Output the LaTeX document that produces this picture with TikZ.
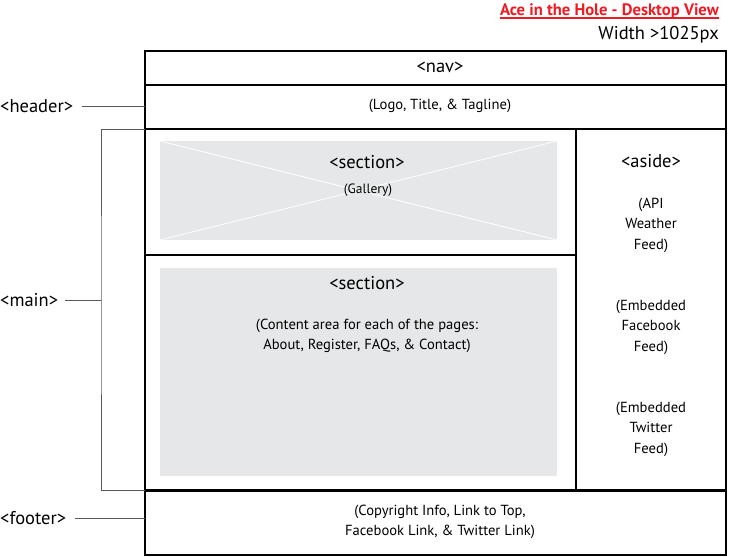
\documentclass[tikz,border=0pt]{standalone}
\usepackage{fontspec}
\setmainfont{PT Sans}
\usetikzlibrary{positioning}
\definecolor{paneGray}{HTML}{E6E7E8}
\definecolor{titleRed}{HTML}{ED1C24}
\definecolor{leadGray}{HTML}{595959}

\begin{document}
\begin{tikzpicture}[%
    x=1pt, y=-1pt,
    region/.style 2 args={draw, line width=2.6pt, anchor=north west,
      inner sep=0pt, outer sep=0pt, minimum width=#1pt, minimum height=#2pt},
    pane/.style 2 args={fill=paneGray, anchor=north west,
      inner sep=0pt, outer sep=0pt, minimum width=#1pt, minimum height=#2pt},
    tag/.style={font=\fontsize{18.5}{20}\selectfont, inner sep=0pt},
    note/.style={font=\fontsize{14.6}{20.5}\selectfont, align=center, inner sep=0pt},
    leader/.style={draw=leadGray, line width=1pt},
  ]
    \useasboundingbox (0,0) rectangle (742,557);

    % boxes of the layout
    \node[region={581}{34}]   (nav)     at (145,51)    {};
    \node[region={581}{44}]   (header)  at (145,85)    {};
    \node[region={431}{126}]  (gallery) at (145,129)   {};
    \node[region={431}{235.7}](content) at (145,255)   {};
    \node[region={150}{361.7}](aside)   at (576,129)   {};
    \node[region={581}{64.3}] (footer)  at (145,490.7) {};

    % grey placeholders
    \node[pane={397}{99}]  (galpane) at (160,141) {};
    \node[pane={397}{208}] (conpane) at (160,268) {};
    \draw[white, line width=0.8pt] (galpane.north west) -- (galpane.south east)
                                   (galpane.south west) -- (galpane.north east);

    % heading
    \node[anchor=east, inner sep=0pt, text=titleRed,
          font=\fontsize{16.6}{18}\selectfont\bfseries] (title) at (719,11)
          {Ace in the Hole - Desktop View};
    \draw[titleRed, line width=1.6pt] ([yshift=-2.5pt]title.base west) -- ([yshift=-2.5pt]title.base east);
    \node[tag, anchor=east] (width) at (719,35) {Width >1025px};

    % texts in the boxes
    \node[tag] (navtxt) at (440,67) {<nav>};
    \node[note] (hdrtxt) at (440,106) {(Logo, Title, \& Tagline)};
    \node[tag] (galtag) at (367,162) {<section>};
    \node[note, font=\fontsize{13.5}{15}\selectfont] (galtxt) at (368,190) {(Gallery)};
    \node[tag] (contag) at (367,283) {<section>};
    \node[note] (context) at (367,336) {(Content area for each of the pages:\\About, Register, FAQs, \& Contact)};
    \node[tag] (asitag) at (651,161) {<aside>};
    \node[note] (weather) at (651,225) {(API\\Weather\\Feed)};
    \node[note] (fbfeed)  at (651,327) {(Embedded\\Facebook\\Feed)};
    \node[note] (twfeed)  at (651,429) {(Embedded\\Twitter\\Feed)};
    \node[note] (ftrtxt)  at (440,522) {(Copyright Info, Link to Top,\\Facebook Link, \& Twitter Link)};

    % labels on the left
    \node[tag, anchor=west] (hdrlbl)  at (0,106) {<header>};
    \node[tag, anchor=west] (mainlbl) at (0,300) {<main>};
    \node[tag, anchor=west] (ftrlbl)  at (0,518) {<footer>};
    \coordinate (brace) at (101,300);

    \path[leader] ([xshift=9pt]hdrlbl.east) -- (hdrlbl.east -| header.west)
                  ([xshift=7pt]mainlbl.east) -- (brace)
                  (gallery.north west) -| (brace) |- (content.south west)
                  ([xshift=9pt]ftrlbl.east) -- (ftrlbl.east -| footer.west);
\end{tikzpicture}
\end{document}
